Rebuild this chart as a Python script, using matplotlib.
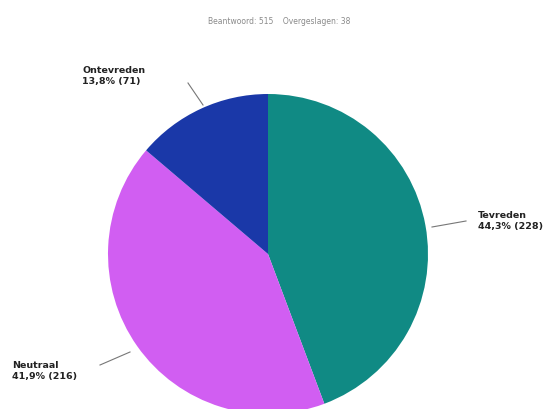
import matplotlib
matplotlib.use("Agg")
import matplotlib.pyplot as plt

categories = ["Tevreden", "Neutraal", "Ontevreden"]
counts = [228, 216, 71]
pct_labels = ["44,3% (228)", "41,9% (216)", "13,8% (71)"]
colors = ["#108a84", "#d15ef2", "#1a38a8"]
title = "Beantwoord: 515    Overgeslagen: 38"

W, H = 559, 410
fig = plt.figure(figsize=(W / 100, H / 100), dpi=100)
ax = fig.add_axes([0, 0, 1, 1])

cx, cy, r = 268, H - 255, 160
ax.pie(counts, colors=colors, startangle=90, counterclock=False,
       center=(cx, cy), radius=r, frame=True,
       wedgeprops=dict(linewidth=0))
ax.set_xlim(0, W)
ax.set_ylim(0, H)
ax.set_aspect("equal")
ax.axis("off")

ax.text(W / 2, H - 22, title, ha="center", va="center", fontsize=5.5, color="#8a8a8a")

# label positions (pixel coords, top-left of text)
lab = {
    "Tevreden": (478, 211, (432, 228), (466, 222)),
    "Neutraal": (12, 361, (130, 353), (100, 366)),
    "Ontevreden": (82, 66, (203, 106), (188, 84)),
}
for cat, pl in zip(categories, pct_labels):
    x, y, p0, p1 = lab[cat]
    ax.text(x, H - y, cat + "\n" + pl, ha="left", va="top", fontsize=6.8,
            fontweight="bold", color="#222222", linespacing=1.3)
    ax.plot([p0[0], p1[0]], [H - p0[1], H - p1[1]], color="#777777", lw=0.8)

fig.savefig("out.png", dpi=100)
